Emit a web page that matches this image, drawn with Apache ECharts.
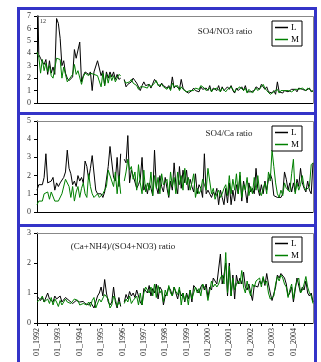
<!DOCTYPE html>
<html>
<head>
<meta charset="utf-8">
<script src="https://cdn.jsdelivr.net/npm/echarts@6/dist/echarts.min.js"></script>
<style>
  html, body { margin: 0; padding: 0; background: #fff; }
  #chart { width: 321px; height: 362px; }
</style>
</head>
<body>
<div id="chart"></div>
<script>
// Monthly categories, January 1992 to December 2004 (labelled "MM_YYYY")
const months = [];
for (let y = 1992; y <= 2004; y++) {
  for (let m = 1; m <= 12; m++) months.push((m < 10 ? '0' : '') + m + '_' + y);
}

// SO4/NO3 ratio
const so4no3L = [
  12, 3.9, 3.6, 3.3, 3.1, 3.5, 2.3, 3.4, 2.4, 2.9, 2.3, 6.8,
  6.4, 5.2, 3.0, 3.4, 2.4, 2.0, 1.8, 1.8, 2.1, 4.3, 3.6, 3.5,
  4.9, 1.7, 2.2, 2.5, 2.4, 2.3, 2.5, 1.0, 2.5, 2.6, 3.4, 3.4,
  2.2, 2.6, 1.4, 2.5, 2.0, 2.5, 2.1, 2.5, 1.9, 2.3, 1.9, 2.0,
  null, 1.9, 1.3, 1.5, 1.6, 1.7, 2.0, 1.8, 1.6, 1.5, 1.0, 1.4,
  1.7, 1.4, 1.3, 1.5, 1.2, 1.3, 1.9, 1.8, 1.5, 1.3, 1.6, 1.4,
  1.3, 1.2, 1.4, 1.1, 2.1, 1.2, 1.4, 1.3, 1.1, 1.9, 1.2, 1.0,
  1.1, 0.8, 0.9, 1.0, 1.2, 1.0, 1.1, 0.9, 1.3, 1.1, 1.0, 1.2,
  1.0, 1.4, 0.9, 1.2, 1.1, 1.0, 1.4, 0.9, 1.3, 1.0, 0.9, 1.3,
  1.1, 1.4, 1.0, 0.8, 1.2, 1.0, 0.9, 1.3, 1.0, 1.4, 0.9, 1.0,
  0.9, 0.8, 1.0, 1.3, 1.2, 1.1, 1.5, 1.6, 1.1, 1.3, 0.9, 1.0,
  0.8, 1.0, 0.7, 1.7, 0.9, 1.0, 0.8, 1.0, 1.1, 0.9, 1.0, 1.1,
  1.0, 1.1, 0.9, 1.2, 1.3, 1.1, 1.2, 1.0, 1.1, 1.2, 0.9, 1.0
];
const so4no3M = [
  4.1, 3.7, 2.4, 3.5, 2.6, 3.2, 2.5, 3.0, 2.2, 2.0, 1.9, 3.6,
  3.5, 3.5, 2.0, 2.9, 2.3, 1.7, 1.9, 1.8, 2.3, 3.1, 2.3, 2.6,
  2.5, 1.5, 2.1, 2.4, 2.3, 2.2, 2.4, 2.4, 2.3, 2.2, 2.2, 2.3,
  1.3, 2.4, 1.4, 2.3, 1.6, 2.3, 1.8, 2.2, 1.7, 2.0, 2.3, 2.2,
  null, 1.8, 1.6, 1.5, 1.7, 1.9, 1.6, 1.5, 1.4, 1.1, 1.3, 1.2,
  1.3, 1.4, 1.2, 1.5, 1.3, 1.2, 1.6, 1.8, 1.4, 1.3, 1.5, 1.3,
  1.2, 1.1, 1.3, 1.0, 1.6, 1.3, 1.2, 1.4, 1.0, 1.3, 1.1, 1.0,
  0.9, 0.8, 1.0, 1.1, 1.0, 1.2, 1.3, 1.1, 1.4, 1.5, 1.2, 1.0,
  1.1, 1.2, 0.9, 1.1, 1.0, 1.2, 1.1, 0.9, 1.2, 1.1, 0.9, 1.1,
  1.0, 1.3, 1.1, 0.9, 1.1, 1.0, 1.3, 1.4, 1.0, 1.2, 0.8, 1.1,
  1.0, 0.8, 0.9, 1.2, 1.0, 1.1, 1.3, 1.5, 1.2, 1.0, 0.9, 0.7,
  0.6, 0.9, 0.8, 1.1, 0.8, 1.0, 0.9, 1.0, 0.9, 1.0, 1.0, 0.9,
  1.0, 1.1, 1.0, 1.1, 1.2, 1.2, 1.1, 1.0, 1.2, 1.1, 1.0, 0.9
];

// SO4/Ca ratio
const so4caL = [
  1.2, 1.5, 1.6, 1.5, 1.9, 3.2, 1.6, 1.6, 1.7, 1.9, 1.2, 1.6,
  1.4, 1.6, 1.5, 1.9, 2.2, 3.4, 2.4, 2.1, 1.5, 1.7, 1.4, 2.0,
  1.7, 1.9, 1.6, 2.8, 2.5, 1.8, 2.4, 3.1, 3.2, 1.2, 1.0, 0.9,
  1.0, 0.8, 1.1, 1.0, 2.5, 3.6, 3.7, 1.9, 1.7, 3.0, 1.4, 3.2,
  null, 2.9, 2.7, 4.2, 1.6, 2.3, 2.0, 1.9, 1.3, 1.5, 1.8, 3.0,
  1.2, 1.5, 1.0, 1.6, 1.3, 0.9, 3.4, 1.4, 1.0, 2.0, 1.4, 1.1,
  1.9, 1.3, 0.8, 1.7, 1.2, 2.7, 1.5, 1.0, 2.5, 1.3, 2.3, 1.6,
  2.3, 1.2, 1.8, 1.4, 1.1, 2.1, 1.0, 1.5, 1.3, 0.8, 3.2, 1.0,
  1.2, 1.0, 0.8, 1.1, 0.9, 1.3, 0.4, 1.2, 0.8, 0.4, 1.3, 0.5,
  1.6, 0.4, 1.2, 0.6, 1.5, 1.0, 2.0, 0.6, 1.7, 1.2, 0.5, 1.6,
  1.1, 1.3, 1.0, 2.4, 1.3, 0.9, 1.5, 1.0, 1.7, 1.2, 1.8, 2.1,
  1.8, 0.9, 1.0, 0.8, 0.7, 0.8, 1.0, 2.2, 1.8, 1.2, 1.6, 1.1,
  1.6, 1.1, 1.8, 1.4, 2.4, 1.6, 1.3, 1.1, 1.7, 1.2, 1.0, 2.7
];
const so4caM = [
  0.4, 0.6, 0.5, 0.6, 1.0, 1.0, 1.1, 0.7, 1.1, 1.0, 0.6, 0.6,
  0.6, 0.6, 1.0, 1.0, 1.8, 1.8, 1.4, 0.8, 1.4, 0.6, 1.1, 1.4,
  0.8, 1.3, 1.6, 1.0, 0.8, 2.1, 1.4, 1.0, 0.8, 0.9, 1.0, 0.8,
  0.7, 1.0, 0.9, 1.4, 2.3, 2.3, 1.7, 1.4, 2.2, 1.0, 2.0, 1.0,
  null, 1.7, 2.2, 2.9, 2.3, 2.5, 1.8, 2.2, 1.2, 2.6, 1.6, 1.0,
  2.3, 1.1, 1.6, 1.2, 2.2, 0.9, 2.0, 1.3, 1.9, 1.0, 2.1, 1.5,
  1.4, 1.8, 0.9, 2.2, 1.4, 1.9, 1.0, 2.2, 1.5, 2.0, 1.2, 2.4,
  1.5, 1.9, 1.2, 1.6, 2.1, 0.8, 1.3, 1.0, 1.2, 1.8, 1.9, 1.2,
  2.4, 2.3, 1.0, 1.3, 0.7, 1.0, 1.2, 0.8, 1.0, 1.3, 1.5, 0.9,
  2.0, 1.0, 1.8, 1.2, 2.1, 1.0, 2.2, 0.8, 1.5, 1.2, 1.9, 0.9,
  1.4, 1.0, 1.9, 1.2, 2.0, 1.1, 0.9, 1.3, 1.6, 1.0, 2.2, 1.7,
  3.4, 2.5, 1.6, 1.0, 0.8, 1.2, 0.9, 1.6, 1.3, 1.2, 1.1, 2.1,
  2.9, 1.0, 1.6, 1.2, 1.5, 2.0, 1.4, 1.2, 1.1, 1.4, 2.6, 2.7
];

// (Ca+NH4)/(SO4+NO3) ratio
const ionL = [
  0.9, 0.85, 0.75, 0.85, 0.7, 0.75, 1.0, 0.8, 0.75, 0.7, 0.9, 0.8,
  0.75, 0.9, 0.7, 0.75, 0.85, 0.8, 0.75, 0.7, 0.65, 0.7, 0.75, 0.8,
  0.7, 0.7, 0.72, 0.65, 0.7, 0.6, 0.7, 0.65, 0.5, 0.7, 0.9, 1.0,
  1.2, 0.9, 1.45, 1.0, 0.7, 0.6, 0.7, 1.2, 0.7, 0.5, 0.85, 0.55,
  null, 0.7, 0.95, 0.8, 1.05, 0.9, 1.0, 0.85, 1.1, 0.9, 0.7, 0.6,
  1.15, 1.2, 1.0, 1.25, 0.9, 1.15, 1.0, 1.3, 0.8, 1.2, 1.1, 0.6,
  0.9, 1.0, 1.2, 1.1, 0.9, 1.2, 1.0, 0.8, 1.1, 0.9, 1.0, 0.7,
  1.0, 0.8, 1.1, 0.7, 1.25, 1.2, 1.1, 1.0, 1.2, 1.3, 1.1, 1.3,
  0.85, 1.2, 1.1, 1.5, 1.4, 1.3, 1.8, 2.3, 1.3, 1.6, 2.0, 0.9,
  2.0, 0.9, 1.6, 0.8, 1.6, 1.3, 1.5, 1.3, 1.7, 1.2, 1.1, 1.3,
  1.0, 0.75, 1.25, 1.3, 1.2, 1.4, 1.3, 1.5, 1.25, 1.65, 1.3, 1.0,
  0.75, 0.8, 1.2, 1.6, 1.5, 1.65, 1.7, 1.5, 1.3, 0.9, 1.0, 1.2,
  0.7, 1.1, 1.5, 1.55, 1.0, 1.2, 1.1, 1.4, 1.0, 0.9, 1.0, 0.7
];
const ionM = [
  0.7, 0.75, 0.8, 0.9, 0.7, 0.75, 0.8, 0.65, 0.85, 0.6, 0.8, 0.7,
  0.55, 0.75, 0.6, 0.7, 0.8, 0.7, 0.75, 0.65, 0.7, 0.8, 0.85, 0.75,
  0.6, 0.6, 0.65, 0.7, 0.6, 0.7, 0.55, 0.75, 0.85, 0.5, 0.55, 0.8,
  0.7, 0.75, 0.95, 1.0, 0.8, 0.5, 0.6, 0.9, 0.8, 0.55, 0.7, 0.6,
  null, 0.65, 0.8, 0.7, 0.9, 0.65, 0.75, 0.7, 0.9, 0.6, 1.0, 0.6,
  1.0, 1.2, 1.1, 1.0, 1.2, 0.9, 1.3, 0.85, 1.25, 1.0, 1.1, 0.7,
  1.1, 0.9, 1.25, 1.0, 0.9, 1.2, 1.05, 0.95, 1.2, 0.6, 1.0, 0.75,
  0.95, 0.6, 1.1, 0.8, 1.0, 1.2, 1.0, 1.15, 0.9, 1.3, 1.2, 1.1,
  0.75, 0.75, 1.4, 1.2, 1.3, 1.2, 1.3, 1.5, 1.6, 1.3, 2.35, 1.0,
  1.9, 0.9, 1.5, 1.1, 1.3, 1.4, 1.3, 1.75, 1.2, 1.0, 1.4, 1.1,
  0.9, 1.3, 1.2, 1.4, 1.35, 1.5, 1.2, 1.55, 1.3, 1.4, 1.0, 0.8,
  0.8, 0.9, 1.3, 1.55, 1.4, 1.6, 1.5, 1.3, 1.2, 0.85, 1.1, 1.3,
  0.8, 1.2, 1.4, 1.5, 1.0, 1.1, 1.3, 1.55, 1.2, 1.0, 0.9, 0.65
];

const panelTitles = ['SO4/NO3 ratio', 'SO4/Ca ratio', '(Ca+NH4)/(SO4+NO3) ratio'];
const yMax = [7, 5, 3];
const seriesNames = ['L', 'M'];

const serif = "'Liberation Serif', 'Times New Roman', serif";
const blue = '#3434c8';
const colL = '#000000';
const colM = '#008000';

const grids = [
  { left: 37, right: 8, top: 16, height: 87 },
  { left: 37, right: 8, top: 121, height: 91 },
  { left: 37, right: 8, top: 233, height: 90 }
];

const xAxes = grids.map((g, i) => ({
  type: 'category',
  gridIndex: i,
  data: months,
  boundaryGap: false,
  axisLine: { lineStyle: { color: '#000', width: 1 } },
  axisTick: i === 2
    ? { show: true, interval: 5, length: 3, inside: false, lineStyle: { color: '#000' } }
    : { show: false },
  axisLabel: i === 2
    ? { show: true, interval: 11, rotate: 90, margin: 5, fontSize: 8, fontFamily: serif, color: '#222' }
    : { show: false },
  splitLine: { show: false }
}));

const yAxes = grids.map((g, i) => ({
  type: 'value',
  gridIndex: i,
  min: 0,
  max: yMax[i],
  interval: 1,
  axisLine: { show: true, lineStyle: { color: '#000', width: 1 } },
  axisTick: { show: true, length: 3, lineStyle: { color: '#000' } },
  axisLabel: { fontSize: 8, fontFamily: serif, color: '#333', margin: 6 },
  splitLine: { show: false }
}));

const panelData = [[so4no3L, so4no3M], [so4caL, so4caM], [ionL, ionM]];
const series = [];
panelData.forEach((pair, i) => {
  pair.forEach((vals, k) => {
    series.push({
      type: 'line',
      name: seriesNames[k],
      xAxisIndex: i,
      yAxisIndex: i,
      data: vals,
      showSymbol: false,
      connectNulls: false,
      clip: true,
      lineStyle: { color: k === 0 ? colL : colM, width: 1 },
      itemStyle: { color: k === 0 ? colL : colM },
      emphasis: { disabled: true },
      z: 2 + k
    });
  });
});

const legendTops = [21, 126, 237];
const legends = legendTops.map(t => ({
  left: 272,
  top: t,
  orient: 'vertical',
  data: seriesNames,
  icon: 'rect',
  itemWidth: 13,
  itemHeight: 1.5,
  itemGap: 3,
  padding: [2, 3, 2, 3],
  borderColor: '#000',
  borderWidth: 1,
  backgroundColor: '#fff',
  selectedMode: false,
  textStyle: { fontSize: 9, fontFamily: serif, color: '#000', padding: [0, 0, 0, -2] }
}));

const titles = [
  { text: panelTitles[0], x: 225, y: 32 },
  { text: panelTitles[1], x: 229, y: 134 },
  { text: panelTitles[2], x: 123, y: 247 }
];

const graphics = [];
// blue panel frames
[[7, 112], [112, 224], [224, 372]].forEach(([y0, y1]) => {
  graphics.push({
    type: 'rect',
    shape: { x: 18.5, y: y0 + 1.5, width: 297, height: y1 - y0 },
    style: { fill: null, stroke: blue, lineWidth: 3 },
    z: 10
  });
});
// plot area frames (top and right edges)
grids.forEach(g => {
  graphics.push({
    type: 'polyline',
    shape: { points: [[g.left, g.top + 0.5], [313.5, g.top + 0.5], [313.5, g.top + g.height]] },
    style: { fill: null, stroke: '#888', lineWidth: 1 },
    z: 1
  });
});
titles.forEach(t => {
  graphics.push({
    type: 'text',
    x: t.x,
    y: t.y,
    style: { text: t.text, fontSize: 9, fontFamily: serif, fill: '#222', align: 'center', verticalAlign: 'middle' },
    z: 5
  });
});
// value of the clipped first point of L in the SO4/NO3 panel
graphics.push({
  type: 'text',
  x: 43,
  y: 21,
  style: { text: String(so4no3L[0]), fontSize: 6, fontFamily: serif, fill: '#333', align: 'center', verticalAlign: 'middle' },
  z: 5
});

const chart = echarts.init(document.getElementById('chart'), null, { renderer: 'canvas' });
chart.setOption({
  animation: false,
  backgroundColor: '#fff',
  grid: grids,
  xAxis: xAxes,
  yAxis: yAxes,
  legend: legends,
  series: series,
  graphic: graphics,
  tooltip: { show: false }
});
</script>
</body>
</html>
